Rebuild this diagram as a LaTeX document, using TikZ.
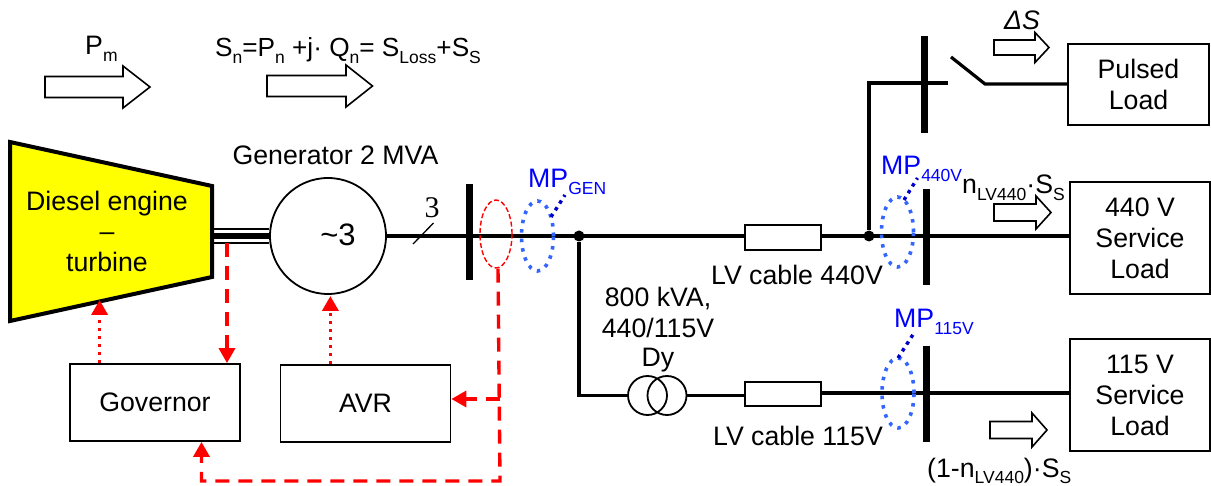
\documentclass[tikz,border=0pt]{standalone}
\usepackage{fontspec}
\setmainfont{Liberation Sans}
\newfontfamily\serifthree{Liberation Serif}
\usetikzlibrary{shapes.geometric,arrows.meta}
\definecolor{mpblue}{HTML}{3366FF}
\definecolor{leadblue}{HTML}{0000CC}
\definecolor{textblue}{HTML}{0000FF}
\definecolor{engyellow}{HTML}{FFFF00}
\definecolor{sigred}{HTML}{FF0000}
\newcommand{\lowsub}[1]{\raisebox{-0.24em}{\fontsize{17.5}{18}\selectfont #1}}
\newcommand{\blockarrow}[6]{\draw[blockarr] (#1,#4-#5) -- (#2,#4-#5) -- (#2,#4-#6) -- (#3,#4) -- (#2,#4+#6) -- (#2,#4+#5) -- (#1,#4+#5) -- cycle;}
\tikzset{
  x=1pt,y=-1pt,
  txt/.style={font=\fontsize{26.7}{31}\selectfont,inner sep=0pt,anchor=base},
  txtl/.style={txt,anchor=base west},
  mptxt/.style={txtl,text=textblue},
  boxn/.style={draw=black,line width=1.8pt,fill=white,rectangle,inner sep=0pt,align=center,font=\fontsize{26.7}{31}\selectfont},
  cable/.style={boxn,minimum width=76pt,minimum height=24.5pt},
  wire/.style={draw=black,line width=3.2pt},
  busbar/.style={draw=black,line width=7pt},
  blockarr/.style={draw=black,line width=1.6pt,fill=white,line join=miter},
  mpring/.style={ellipse,draw=mpblue,line width=3.6pt,dash pattern=on 3.5pt off 6pt,inner sep=0pt,minimum width=32pt,minimum height=70pt},
  leader/.style={draw=leadblue,line width=3.4pt,dash pattern=on 3.5pt off 4.5pt},
  reddash/.style={draw=sigred,line width=3.4pt,dash pattern=on 14pt off 9pt,-{Triangle[length=15pt,width=16pt]}},
  reddot/.style={draw=sigred,line width=3.6pt,dash pattern=on 3.5pt off 4.5pt,-{Triangle[length=15pt,width=16pt]}},
  dotj/.style={circle,fill=black,inner sep=0pt,minimum size=11pt},
}
\begin{document}
\begin{tikzpicture}
\useasboundingbox (0,0) rectangle (1211,486);
% block arrows
\blockarrow{45}{123}{150}{87}{10.5}{21}
\blockarrow{267}{346}{372.5}{86}{10.5}{21}
\blockarrow{994}{1035}{1049}{47.5}{7.5}{15}
\blockarrow{994}{1036}{1051}{212.5}{8.5}{16.5}
\blockarrow{990}{1032}{1047}{430}{8.5}{17}
% top labels
\node[txtl] (pm) at (85,55) {P\lowsub{m}};
\node[txtl,font=\fontsize{26.2}{31}\selectfont] (sn) at (215,57) {S\lowsub{n}=P\lowsub{n} +j· Q\lowsub{n}= S\lowsub{Loss}+S\lowsub{S}};
\node[txtl] (ds) at (1004,30) {\itshape ΔS};
% engine
\draw[draw=black,line width=4pt,fill=engyellow,line join=miter] (10,142) -- (212,186) -- (212,277) -- (10,321) -- cycle;
\node[txt] (e1) at (107,211) {Diesel engine};
\node[txt] (e2) at (107,241) {–};
\node[txt] (e3) at (107,272) {turbine};
% generator
\node[txt] (gt) at (335.5,165) {Generator 2 MVA};
\node[circle,draw=black,line width=1.8pt,minimum size=116pt,inner sep=0pt] (gen) at (328,236) {};
\node[txt,font=\fontsize{31}{32}\selectfont] (gs) at (338,246) {\textasciitilde 3};
\coordinate (shL) at (212,236);
\draw[draw=black,line width=1.5pt] (212,229) -- (gen.west |- 0,229);
\draw[draw=black,line width=1.5pt] (212,243) -- (gen.west |- 0,243);
\draw[draw=black,line width=5.5pt] (shL) -- (gen.west);
% main buses
\coordinate (jA) at (579,236);
\node[dotj] (j1) at (579,236) {};
\node[dotj] (j2) at (869,236) {};
\node[cable] (c440) at (783,237.5) {};
\node[cable] (c115) at (783,394) {};
\node[boxn,minimum width=141pt,minimum height=81pt] (pul) at (1138.5,84.5) {Pulsed\\Load};
\node[boxn,minimum width=140pt,minimum height=112pt] (s440) at (1140,238) {440 V\\Service\\Load};
\node[boxn,minimum width=140pt,minimum height=112pt] (s115) at (1140,395) {115 V\\Service\\Load};
\draw[wire] (gen.east) -- (c440.west |- gen.east);
\draw[wire] (c440.east |- j2) -- (s440.west |- j2);
\draw[busbar] (469,184) -- (469,280);
\draw[busbar] (926,189) -- (926,285);
\draw[busbar] (924,36) -- (924,133);
\draw[busbar] (926.5,346) -- (926.5,442);
% branch to pulsed load
\coordinate (swA) at (947.5,83);
\coordinate (swB) at (985,84);
\coordinate (swC) at (951,57);
\draw[wire,line join=miter] (j2) -- (869,83) -- (swA);
\draw[wire] (swC) -- (swB) -- (pul.west |- swB);
% transformer
\node[circle,draw=black,line width=1.8pt,minimum size=39pt,inner sep=0pt] (t1) at (647.5,395.5) {};
\node[circle,draw=black,line width=1.8pt,minimum size=39pt,inner sep=0pt] (t2) at (667,395.5) {};
\draw[wire,line join=miter] (j1) -- (579,395.5) -- (t1.west);
\draw[wire] (t2.east) -- (c115.west |- t2.east);
\draw[wire] (c115.east |- 0,393) -- (s115.west |- 0,393);
% three-phase mark
\coordinate (sa) at (413,244);
\coordinate (sb) at (433.5,223);
\draw[draw=black,line width=1.3pt] (sa) -- (sb);
\node[txt,font=\fontsize{30}{32}\serifthree] (three) at (432,218) {3};
% measuring rings
\node[mpring] (mg) at (537.5,236) {};
\node[mpring] (m4) at (897.5,232) {};
\node[mpring] (m1) at (898,393) {};
\node[ellipse,draw=sigred,line width=1.4pt,dash pattern=on 5pt off 2.5pt,inner sep=0pt,minimum width=32pt,minimum height=68pt] (rd) at (496,234) {};
\coordinate (lg) at (565,195);
\coordinate (l4) at (917.5,178);
\coordinate (l1) at (914,333);
\draw[leader] (551,217) -- (lg);
\draw[leader] (904,200) -- (l4);
\draw[leader] (898,358) -- (l1);
\node[mptxt] (tg) at (528,188) {MP\lowsub{GEN}};
\node[mptxt] (t4) at (881,175) {MP\lowsub{440V}};
\node[mptxt] (t1b) at (894,328) {MP\lowsub{115V}};
% labels
\node[txtl] (ns) at (962,194) {n\lowsub{LV440}·S\lowsub{S}};
\node[txtl] (ls) at (927,477) {(1-n\lowsub{LV440})·S\lowsub{S}};
\node[txt] (l440) at (797,285) {LV cable 440V};
\node[txt] (l115) at (798,446) {LV cable 115V};
\node[txt] (k1) at (658,307) {800 kVA,};
\node[txt] (k2) at (658,338) {440/115V};
\node[txt] (k3) at (658,367) {Dy};
% control boxes
\node[boxn,minimum width=170pt,minimum height=77pt] (gov) at (155,402.5) {Governor};
\node[boxn,minimum width=170pt,minimum height=77pt] (avr) at (365.5,403.5) {AVR};
% control signals
\coordinate (engB) at (99.6,300);
\coordinate (genB) at (330.4,296);
\coordinate (shD) at (227,243);
\coordinate (brA) at (499.5,399);
\coordinate (loopR) at (500,481);
\coordinate (loopL) at (201.5,481);
\draw[reddot] (gov.north -| engB) -- (engB);
\draw[reddot] (avr.north -| genB) -- (genB);
\draw[reddash] (shD) -- (gov.north -| shD);
\draw[reddash] (rd.south) ++(2,0) -- (loopR) -- (loopL) -- (gov.south -| loopL);
\draw[reddash] (brA) -- (avr.east |- brA);
\end{tikzpicture}
\end{document}
